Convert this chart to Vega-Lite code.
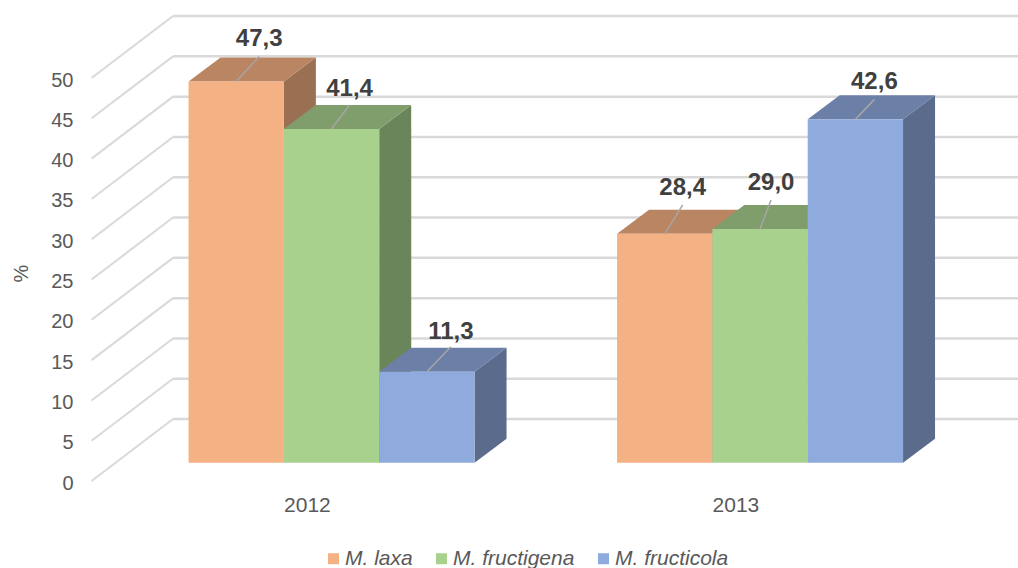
{
"$schema":"https://vega.github.io/schema/vega-lite/v6.json",
"width":1018,"height":568,"padding":0,"autosize":{"type":"none"},
"background":"white",
"config":{"view":{"stroke":null},"font":"Liberation Sans"},
"datasets":{"ticks":[{"tick":0},{"tick":5},{"tick":10},{"tick":15},{"tick":20},{"tick":25},{"tick":30},{"tick":35},{"tick":40},{"tick":45},{"tick":50}]},
"data":{"values":[
{"year":2012,"species":"M. laxa","value":47.3},
{"year":2012,"species":"M. fructigena","value":41.4},
{"year":2012,"species":"M. fructicola","value":11.3},
{"year":2013,"species":"M. laxa","value":28.4},
{"year":2013,"species":"M. fructigena","value":29.0},
{"year":2013,"species":"M. fructicola","value":42.6}
]},
"transform":[
{"calculate":"indexof(['M. laxa','M. fructigena','M. fructicola'],datum.species)","as":"idx"},
{"calculate":"(datum.year==2013?4.495:0)+datum.idx","as":"slot"},
{"calculate":"datum.slot+1","as":"slotEnd"},
{"calculate":"2.27","as":"base"},
{"calculate":"datum.value+datum.base","as":"yTop"},
{"calculate":"(datum.year==2013?3:0)+datum.idx","as":"n"},
{"calculate":"replace(format(datum.value,'.1f'),'.',',')","as":"txt"},
{"calculate":"datum.slot+0.5","as":"mid"},
{"calculate":"datum.mid+[23,18,24,18,11,19][datum.n]/95.33","as":"tipX"},
{"calculate":"datum.yTop+[25,24,25,29,29,20][datum.n]/8.06","as":"tipY"},
{"calculate":"datum.yTop+[42,40,40,46,46,37][datum.n]/8.06","as":"labelY"},
{"calculate":"datum.year+''","as":"yearText"}
],
"resolve":{"scale":{"color":"independent"}},
"layer":[
{"data":{"name":"ticks"},
 "transform":[{"calculate":"datum.tick+7.69","as":"tickBack"}],
 "mark":{"type":"rule","stroke":"#D9D9D9","strokeWidth":2},
 "encoding":{
  "x":{"datum":-1.0175,"type":"quantitative","scale":{"domain":[-1.978,8.701],"nice":false,"zero":false},"axis":null},
  "x2":{"datum":-0.163},
  "y":{"field":"tick","type":"quantitative","scale":{"domain":[-10.79,59.68],"nice":false,"zero":false},
   "axis":{"values":[0,5,10,15,20,25,30,35,40,45,50],"orient":"left","offset":-78,"domain":false,"ticks":false,"grid":false,"labelPadding":5,"labelFontSize":20,"labelOffset":2,"labelColor":"#595959","labelFont":"Liberation Sans","title":"%","titleFontSize":20,"titleFontWeight":"normal","titleColor":"#595959","titleFont":"Liberation Sans","titleX":-47,"titleY":273,"titleAngle":-90}},
  "y2":{"field":"tickBack"}
 }},
{"data":{"name":"ticks"},
 "transform":[{"calculate":"datum.tick+7.69","as":"tickBack"}],
 "mark":{"type":"rule","stroke":"#D9D9D9","strokeWidth":2.5},
 "encoding":{
  "x":{"datum":-0.163,"type":"quantitative"},
  "x2":{"datum":8.701},
  "y":{"field":"tickBack","type":"quantitative"}
 }},
{"transform":[
  {"calculate":"[0,1]","as":"k"},{"flatten":["k"]},
  {"calculate":"datum.slotEnd+datum.k*0.3357","as":"fx"},
  {"calculate":"datum.base+datum.k*2.98","as":"lo"},
  {"calculate":"datum.yTop+datum.k*2.98","as":"hi"}],
 "mark":{"type":"area","opacity":1},
 "encoding":{
  "x":{"field":"fx","type":"quantitative"},
  "y":{"field":"hi","type":"quantitative","stack":null},
  "y2":{"field":"lo"},
  "detail":{"field":"slot"},
  "color":{"field":"species","type":"nominal","legend":null,"scale":{"domain":["M. laxa","M. fructigena","M. fructicola"],"range":["#9B7052","#6B855A","#5B6B8C"]}}
 }},
{"transform":[
  {"calculate":"[0,1,2,3]","as":"k"},{"flatten":["k"]},
  {"calculate":"datum.slot+[0,0.3357,1,1.3357][datum.k]","as":"fx"},
  {"calculate":"datum.yTop+[0,0,0,2.98][datum.k]","as":"lo"},
  {"calculate":"datum.yTop+[0,2.98,2.98,2.98][datum.k]","as":"hi"}],
 "mark":{"type":"area","opacity":1},
 "encoding":{
  "x":{"field":"fx","type":"quantitative"},
  "y":{"field":"hi","type":"quantitative","stack":null},
  "y2":{"field":"lo"},
  "detail":{"field":"slot"},
  "color":{"field":"species","type":"nominal","legend":null,"scale":{"domain":["M. laxa","M. fructigena","M. fructicola"],"range":["#BA8562","#809E6B","#6C80A7"]}}
 }},
{"mark":{"type":"rect"},
 "encoding":{
  "x":{"field":"slot","type":"quantitative"},
  "x2":{"field":"slotEnd"},
  "y":{"field":"yTop","type":"quantitative"},
  "y2":{"field":"base"},
  "color":{"field":"species","type":"nominal","scale":{"domain":["M. laxa","M. fructigena","M. fructicola"],"range":["#F4B183","#A9D18E","#8FAADC"]},
   "legend":{"title":null,"orient":"none","legendX":323,"legendY":548,"direction":"horizontal","columns":3,"symbolType":"square","symbolSize":121,"symbolStrokeWidth":0,"labelFontSize":21,"labelFontStyle":"italic","labelColor":"#595959","labelFont":"Liberation Sans","labelOffset":1,"columnPadding":18}}
 }},
{"mark":{"type":"rule","stroke":"#A6A6A6","strokeWidth":1.5},
 "encoding":{
  "x":{"field":"mid","type":"quantitative"},
  "x2":{"field":"tipX"},
  "y":{"field":"yTop","type":"quantitative"},
  "y2":{"field":"tipY"}
 }},
{"mark":{"type":"text","font":"Liberation Sans","fontWeight":"bold","fontSize":24,"fill":"#404040","align":"center","baseline":"middle"},
 "encoding":{
  "x":{"field":"tipX","type":"quantitative"},
  "y":{"field":"labelY","type":"quantitative"},
  "text":{"field":"txt"}
 }},
{"transform":[{"filter":"datum.idx==1"}],
 "mark":{"type":"text","font":"Liberation Sans","fontSize":21,"fill":"#595959","align":"center","baseline":"middle","dx":23.5},
 "encoding":{
  "x":{"field":"slot","type":"quantitative"},
  "y":{"datum":-3.15,"type":"quantitative"},
  "text":{"field":"yearText"}
 }}
]
}
